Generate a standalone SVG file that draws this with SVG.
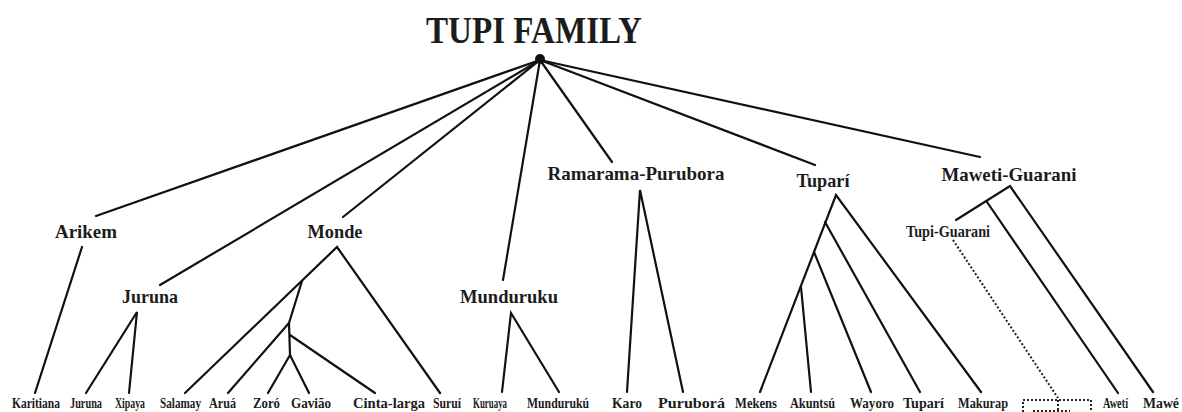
<svg xmlns="http://www.w3.org/2000/svg" width="1182" height="412" viewBox="0 0 1182 412">
<style>
text{font-family:"Liberation Serif","Times New Roman",serif;font-weight:bold;fill:#1c1c1c}
.t{font-size:38px}
.g{font-size:19px;text-anchor:middle}
.s{font-size:16px;text-anchor:middle}
.l{font-size:14px}
.c line,.c polyline{stroke:#111;stroke-width:2.2;fill:none;stroke-linecap:round}
.d{stroke:#222;stroke-width:2;stroke-dasharray:2 2;fill:none}
</style>
<rect width="1182" height="412" fill="#fff"/>
<g id="title"><text class="t" x="426" y="43" textLength="216" lengthAdjust="spacingAndGlyphs">TUPI FAMILY</text></g>
<g class="c" id="connectors">
<line x1="540" y1="60" x2="96" y2="216"/>
<line x1="540" y1="60" x2="160" y2="285"/>
<line x1="540" y1="60" x2="343" y2="217"/>
<line x1="540" y1="60" x2="503" y2="280"/>
<line x1="540" y1="60" x2="612" y2="162"/>
<line x1="540" y1="60" x2="815" y2="165"/>
<line x1="540" y1="60" x2="980" y2="157"/>
<line x1="82" y1="247" x2="35" y2="393"/>
<polyline points="86,393 137,312 129,393"/>
<polyline points="185,393 337,247 440,393"/>
<line x1="302" y1="281" x2="289" y2="323"/>
<line x1="289" y1="323" x2="228" y2="393"/>
<line x1="289" y1="323" x2="290" y2="355"/>
<line x1="290" y1="335" x2="375" y2="393"/>
<polyline points="268,393 290,355 309,393"/>
<polyline points="502,392 511,313 559,392"/>
<polyline points="627,392 640,190 683,392"/>
<polyline points="760,392 836,195 981,392"/>
<line x1="825" y1="222" x2="920" y2="392"/>
<line x1="814" y1="252" x2="871" y2="392"/>
<line x1="801" y1="287" x2="811" y2="392"/>
<polyline points="956,220 1010,186 1153,392"/>
<line x1="987" y1="202" x2="1118" y2="393"/>
</g>
<g id="dotted">
<line class="d" x1="953" y1="240" x2="1058" y2="398"/>
<line class="d" x1="1058" y1="400" x2="1058" y2="412"/>
<rect class="d" x="1023" y="400" width="68" height="22"/>
<line class="d" x1="1033" y1="411" x2="1070" y2="411"/>
</g>
<g id="root"><circle cx="540" cy="59" r="5" fill="#111"/></g>
<g id="arikem"><text class="g" x="86" y="238" textLength="62" lengthAdjust="spacingAndGlyphs">Arikem</text></g>
<g id="monde"><text class="g" x="335" y="238" textLength="55" lengthAdjust="spacingAndGlyphs">Monde</text></g>
<g id="juruna"><text class="g" x="150" y="303" textLength="56" lengthAdjust="spacingAndGlyphs">Juruna</text></g>
<g id="munduruku"><text class="g" x="509" y="303" textLength="98" lengthAdjust="spacingAndGlyphs">Munduruku</text></g>
<g id="ramarama"><text class="g" x="636" y="180" textLength="177" lengthAdjust="spacingAndGlyphs">Ramarama-Purubora</text></g>
<g id="tupari"><text class="g" x="823" y="187" textLength="53" lengthAdjust="spacingAndGlyphs">Tuparí</text></g>
<g id="maweti"><text class="g" x="1009" y="181" textLength="135" lengthAdjust="spacingAndGlyphs">Maweti-Guarani</text></g>
<g id="tupiguarani"><text class="s" x="948" y="237" textLength="84" lengthAdjust="spacingAndGlyphs">Tupi-Guarani</text></g>
<g id="leaves">
<text class="l" x="12" y="408" textLength="48" lengthAdjust="spacingAndGlyphs">Karitiana</text>
<text class="l" x="70" y="408" textLength="32" lengthAdjust="spacingAndGlyphs">Juruna</text>
<text class="l" x="115" y="408" textLength="30" lengthAdjust="spacingAndGlyphs">Xipaya</text>
<text class="l" x="160" y="408" textLength="41" lengthAdjust="spacingAndGlyphs">Salamay</text>
<text class="l" x="209" y="408" textLength="27" lengthAdjust="spacingAndGlyphs">Aruá</text>
<text class="l" x="253" y="408" textLength="27" lengthAdjust="spacingAndGlyphs">Zoró</text>
<text class="l" x="291" y="408" textLength="40" lengthAdjust="spacingAndGlyphs">Gavião</text>
<text class="l" x="353" y="408" textLength="72" lengthAdjust="spacingAndGlyphs">Cinta-larga</text>
<text class="l" x="433" y="408" textLength="28" lengthAdjust="spacingAndGlyphs">Suruí</text>
<text class="l" x="473" y="408" textLength="34" lengthAdjust="spacingAndGlyphs">Kuruaya</text>
<text class="l" x="527" y="408" textLength="62" lengthAdjust="spacingAndGlyphs">Mundurukú</text>
<text class="l" x="612" y="408" textLength="30" lengthAdjust="spacingAndGlyphs">Karo</text>
<text class="l" x="658" y="408" textLength="67" lengthAdjust="spacingAndGlyphs">Puruborá</text>
<text class="l" x="735" y="408" textLength="42" lengthAdjust="spacingAndGlyphs">Mekens</text>
<text class="l" x="790" y="408" textLength="45" lengthAdjust="spacingAndGlyphs">Akuntsú</text>
<text class="l" x="850" y="408" textLength="44" lengthAdjust="spacingAndGlyphs">Wayoro</text>
<text class="l" x="903" y="408" textLength="41" lengthAdjust="spacingAndGlyphs">Tuparí</text>
<text class="l" x="958" y="408" textLength="50" lengthAdjust="spacingAndGlyphs">Makurap</text>
<text class="l" x="1103" y="408" textLength="25" lengthAdjust="spacingAndGlyphs">Awetí</text>
<text class="l" x="1143" y="408" textLength="36" lengthAdjust="spacingAndGlyphs">Mawé</text>
</g>
</svg>
